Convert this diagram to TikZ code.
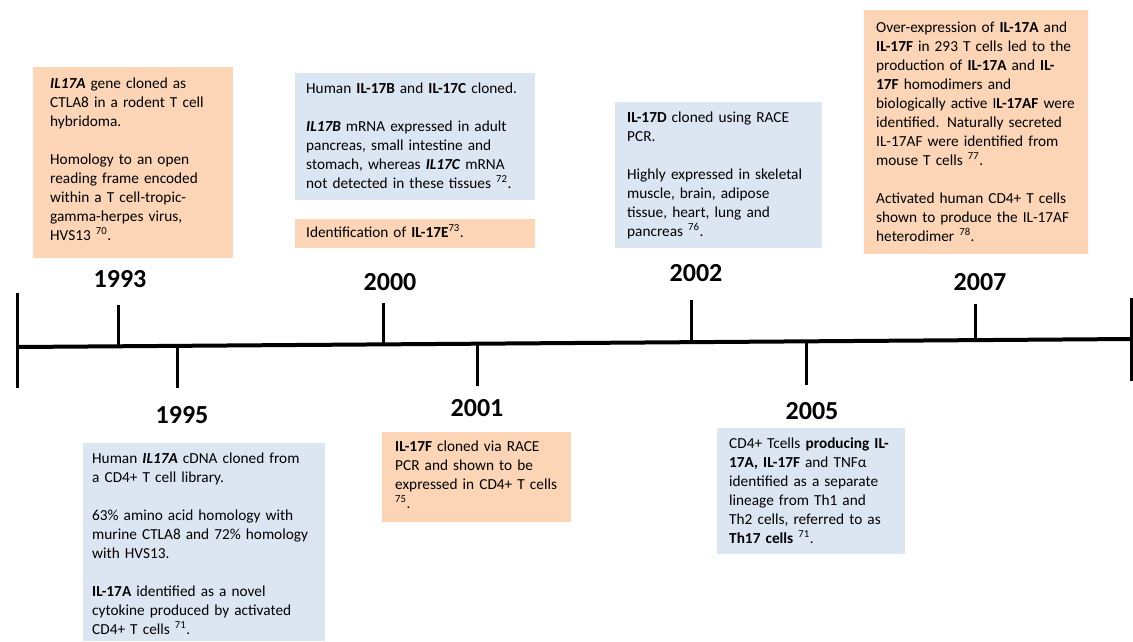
\documentclass[tikz,border=0pt]{standalone}
\usepackage{fontspec}
\setmainfont{Carlito}
\definecolor{peach}{RGB}{251,213,181}
\definecolor{paleblue}{RGB}{220,230,242}
\tikzset{
  evbox/.style={draw=none, inner sep=0pt, outer sep=0pt, anchor=north west},
  orangebox/.style={evbox, fill=peach},
  bluebox/.style={evbox, fill=paleblue},
  evtext/.style={anchor=north west, inner sep=0pt, text width=260pt, align=left,
                 font=\fontsize{15.3}{19}\selectfont},
  year/.style={font=\bfseries\fontsize{26}{30}\selectfont, inner sep=0pt},
  axisline/.style={line width=4pt},
  tickline/.style={line width=3pt},
}
\newcommand{\st}{\rule{0pt}{14pt}}
\begin{document}
\begin{tikzpicture}[x=1pt,y=-1pt]
\useasboundingbox (0,0) rectangle (1133,641);

% ---------- boxes ----------
\node[orangebox, minimum width=200pt, minimum height=191pt] (b1) at (33,67) {};
\node[bluebox,   minimum width=240pt, minimum height=127pt] (b2) at (295,73) {};
\node[orangebox, minimum width=240pt, minimum height=29pt]  (b3) at (295,219) {};
\node[bluebox,   minimum width=207pt, minimum height=146pt] (b4) at (615,102) {};
\node[orangebox, minimum width=224pt, minimum height=244pt] (b5) at (864,10) {};
\node[bluebox,   minimum width=242pt, minimum height=198pt] (b6) at (83,443) {};
\node[orangebox, minimum width=189pt, minimum height=90pt]  (b7) at (382,432) {};
\node[bluebox,   minimum width=188pt, minimum height=126pt] (b8) at (717,428) {};

% ---------- texts ----------
\node[evtext] (t1) at (50,74) {\st\textbf{\textit{IL17A}} gene cloned as\\
CTLA8 in a rodent T cell\\
hybridoma.\\[19pt]
Homology to an open\\
reading frame encoded\\
within a T cell-tropic-\\
gamma-herpes virus,\\
HVS13 \textsuperscript{70}.};

\node[evtext] (t2) at (306,79) {\st Human \textbf{IL-17B} and \textbf{IL-17C} cloned.\\[19pt]
\textbf{\textit{IL17B}} mRNA expressed in adult\\
pancreas, small intestine and\\
stomach, whereas \textbf{\textit{IL17C}} mRNA\\
not detected in these tissues \textsuperscript{72}.};

\node[evtext] (t3) at (306,223) {\st Identification of \textbf{IL-17E}\textsuperscript{73}.};

\node[evtext] (t4) at (627,108) {\st\textbf{IL-17D} cloned using RACE\\
PCR.\\[19pt]
Highly expressed in skeletal\\
muscle, brain, adipose\\
tissue, heart, lung and\\
pancreas \textsuperscript{76}.};

\node[evtext] (t5) at (876,18) {\st Over-expression of \textbf{IL-17A} and\\
\textbf{IL-17F} in 293 T cells led to the\\
production of \textbf{IL-17A} and \textbf{IL-}\\
\textbf{17F} homodimers and\\
biologically active I\textbf{L-17AF} were\\
identified. Naturally secreted\\
IL-17AF were identified from\\
mouse T cells \textsuperscript{77}.\\[19pt]
Activated human CD4+ T cells\\
shown to produce the IL-17AF\\
heterodimer \textsuperscript{78}.};

\node[evtext] (t6) at (92,449) {\st Human \textbf{\textit{IL17A}} cDNA cloned from\\
a CD4+ T cell library.\\[19pt]
63\% amino acid homology with\\
murine CTLA8 and 72\% homology\\
with HVS13.\\[19pt]
\textbf{IL-17A} identified as a novel\\
cytokine produced by activated\\
CD4+ T cells \textsuperscript{71}.};

\node[evtext] (t7) at (395,437) {\st\textbf{IL-17F} cloned via RACE\\
PCR and shown to be\\
expressed in CD4+ T cells\\
\textsuperscript{75}.};

\node[evtext] (t8) at (729,434) {\st CD4+ Tcells \textbf{producing IL-}\\
\textbf{17A, IL-17F} and TNFα\\
identified as a separate\\
lineage from Th1 and\\
Th2 cells, referred to as\\
\textbf{Th17 cells} \textsuperscript{71}.};

% ---------- axis ----------
\coordinate (axL) at (17,347);
\coordinate (axR) at (1131,339);
\coordinate (lbT) at (17,293);
\coordinate (lbB) at (17,388);
\coordinate (rbT) at (1131,298);
\coordinate (rbB) at (1131,381);
\draw[tickline] (lbT) -- (lbB);
\draw[tickline] (rbT) -- (rbB);
\draw[axisline] (axL) -- (axR);

% ticks
\coordinate (k93a) at (118,346.3); \coordinate (k93b) at (118,305);
\coordinate (k95a) at (177,345.9); \coordinate (k95b) at (177,388);
\coordinate (k00a) at (383,344.4); \coordinate (k00b) at (383,303);
\coordinate (k01a) at (477,343.7); \coordinate (k01b) at (477,386);
\coordinate (k02a) at (691,342.2); \coordinate (k02b) at (691,300);
\coordinate (k05a) at (806,341.3); \coordinate (k05b) at (806,385);
\coordinate (k07a) at (975,340.1); \coordinate (k07b) at (975,304);
\foreach \k in {93,95,00,01,02,05,07}{\draw[tickline] (k\k a) -- (k\k b);}

% years
\node[year] (y93) at (120,279) {1993};
\node[year] (y00) at (390,282) {2000};
\node[year] (y02) at (696,273) {2002};
\node[year] (y07) at (980,282) {2007};
\node[year] (y95) at (182,415) {1995};
\node[year] (y01) at (477,408) {2001};
\node[year] (y05) at (812,411) {2005};
\end{tikzpicture}
\end{document}
